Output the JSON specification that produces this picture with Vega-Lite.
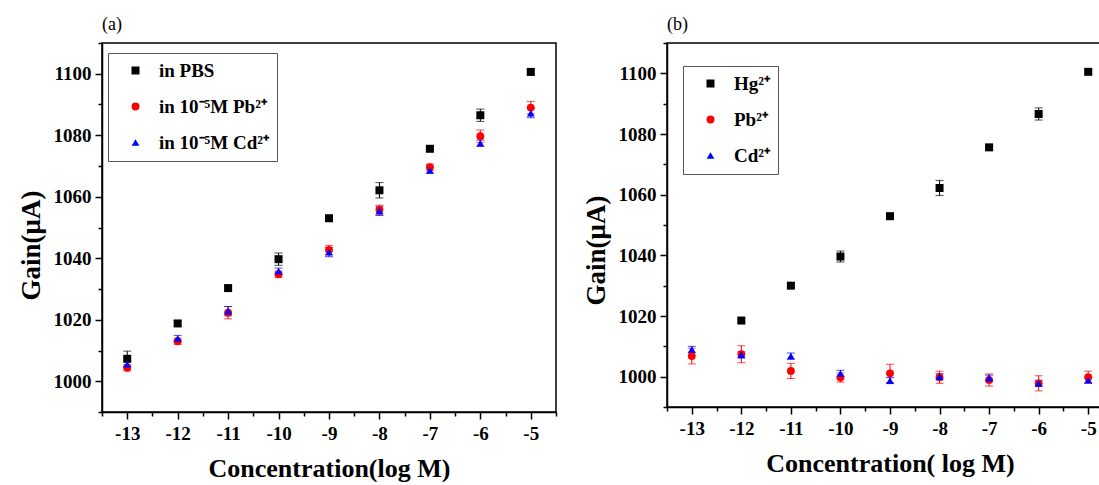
{
  "$schema": "https://vega.github.io/schema/vega-lite/v6.json",
  "padding": {"left": 16, "top": 15, "right": 0, "bottom": 0},
  "spacing": 23,
  "datasets": {
    "pts": [
      {"p": "a", "s": "in PBS", "x": -13, "y": 1007.3, "lo": 1004.8, "hi": 1009.8},
      {"p": "a", "s": "in PBS", "x": -12, "y": 1018.8, "lo": 1018.0, "hi": 1019.6},
      {"p": "a", "s": "in PBS", "x": -11, "y": 1030.3, "lo": 1029.5, "hi": 1031.1},
      {"p": "a", "s": "in PBS", "x": -10, "y": 1039.7, "lo": 1037.7, "hi": 1041.7},
      {"p": "a", "s": "in PBS", "x": -9, "y": 1053.0, "lo": 1052.0, "hi": 1054.0},
      {"p": "a", "s": "in PBS", "x": -8, "y": 1062.1, "lo": 1059.6, "hi": 1064.6},
      {"p": "a", "s": "in PBS", "x": -7, "y": 1075.6, "lo": 1074.8, "hi": 1076.4},
      {"p": "a", "s": "in PBS", "x": -6, "y": 1086.5, "lo": 1084.5, "hi": 1088.5},
      {"p": "a", "s": "in PBS", "x": -5, "y": 1100.6, "lo": 1099.8, "hi": 1101.4},
      {"p": "a", "s": "in 10⁻⁵M Pb²⁺", "x": -13, "y": 1004.4, "lo": 1003.4, "hi": 1005.4},
      {"p": "a", "s": "in 10⁻⁵M Pb²⁺", "x": -12, "y": 1013.0, "lo": 1012.0, "hi": 1014.0},
      {"p": "a", "s": "in 10⁻⁵M Pb²⁺", "x": -11, "y": 1022.3, "lo": 1020.3, "hi": 1024.3},
      {"p": "a", "s": "in 10⁻⁵M Pb²⁺", "x": -10, "y": 1034.8, "lo": 1033.8, "hi": 1035.8},
      {"p": "a", "s": "in 10⁻⁵M Pb²⁺", "x": -9, "y": 1042.7, "lo": 1041.2, "hi": 1044.2},
      {"p": "a", "s": "in 10⁻⁵M Pb²⁺", "x": -8, "y": 1055.8, "lo": 1054.3, "hi": 1057.3},
      {"p": "a", "s": "in 10⁻⁵M Pb²⁺", "x": -7, "y": 1069.6, "lo": 1068.6, "hi": 1070.6},
      {"p": "a", "s": "in 10⁻⁵M Pb²⁺", "x": -6, "y": 1079.7, "lo": 1077.7, "hi": 1081.7},
      {"p": "a", "s": "in 10⁻⁵M Pb²⁺", "x": -5, "y": 1089.0, "lo": 1087.0, "hi": 1091.0},
      {"p": "a", "s": "in 10⁻⁵M Cd²⁺", "x": -13, "y": 1005.6, "lo": 1004.6, "hi": 1006.6},
      {"p": "a", "s": "in 10⁻⁵M Cd²⁺", "x": -12, "y": 1013.9, "lo": 1012.9, "hi": 1014.9},
      {"p": "a", "s": "in 10⁻⁵M Cd²⁺", "x": -11, "y": 1022.8, "lo": 1021.3, "hi": 1024.3},
      {"p": "a", "s": "in 10⁻⁵M Cd²⁺", "x": -10, "y": 1035.8, "lo": 1034.8, "hi": 1036.8},
      {"p": "a", "s": "in 10⁻⁵M Cd²⁺", "x": -9, "y": 1042.0, "lo": 1040.5, "hi": 1043.5},
      {"p": "a", "s": "in 10⁻⁵M Cd²⁺", "x": -8, "y": 1055.4, "lo": 1053.9, "hi": 1056.9},
      {"p": "a", "s": "in 10⁻⁵M Cd²⁺", "x": -7, "y": 1068.6, "lo": 1067.6, "hi": 1069.6},
      {"p": "a", "s": "in 10⁻⁵M Cd²⁺", "x": -6, "y": 1077.4, "lo": 1076.4, "hi": 1078.4},
      {"p": "a", "s": "in 10⁻⁵M Cd²⁺", "x": -5, "y": 1087.2, "lo": 1085.7, "hi": 1088.7},
      {"p": "b", "s": "Hg²⁺", "x": -12, "y": 1018.5, "lo": 1017.8, "hi": 1019.2},
      {"p": "b", "s": "Hg²⁺", "x": -11, "y": 1030.0, "lo": 1029.3, "hi": 1030.7},
      {"p": "b", "s": "Hg²⁺", "x": -10, "y": 1039.6, "lo": 1037.8, "hi": 1041.4},
      {"p": "b", "s": "Hg²⁺", "x": -9, "y": 1052.9, "lo": 1051.9, "hi": 1053.9},
      {"p": "b", "s": "Hg²⁺", "x": -8, "y": 1062.2, "lo": 1059.7, "hi": 1064.7},
      {"p": "b", "s": "Hg²⁺", "x": -7, "y": 1075.6, "lo": 1074.9, "hi": 1076.3},
      {"p": "b", "s": "Hg²⁺", "x": -6, "y": 1086.6, "lo": 1084.6, "hi": 1088.6},
      {"p": "b", "s": "Hg²⁺", "x": -5, "y": 1100.5, "lo": 1099.8, "hi": 1101.2},
      {"p": "b", "s": "Pb²⁺", "x": -13, "y": 1006.8, "lo": 1004.2, "hi": 1009.4},
      {"p": "b", "s": "Pb²⁺", "x": -12, "y": 1007.4, "lo": 1004.6, "hi": 1010.2},
      {"p": "b", "s": "Pb²⁺", "x": -11, "y": 1001.9, "lo": 999.4, "hi": 1004.4},
      {"p": "b", "s": "Pb²⁺", "x": -10, "y": 999.7, "lo": 998.2, "hi": 1001.2},
      {"p": "b", "s": "Pb²⁺", "x": -9, "y": 1001.1, "lo": 998.1, "hi": 1004.1},
      {"p": "b", "s": "Pb²⁺", "x": -8, "y": 999.8, "lo": 997.8, "hi": 1001.8},
      {"p": "b", "s": "Pb²⁺", "x": -7, "y": 998.9, "lo": 996.9, "hi": 1000.9},
      {"p": "b", "s": "Pb²⁺", "x": -6, "y": 997.8, "lo": 995.3, "hi": 1000.3},
      {"p": "b", "s": "Pb²⁺", "x": -5, "y": 999.8, "lo": 997.8, "hi": 1001.8},
      {"p": "b", "s": "Cd²⁺", "x": -13, "y": 1009.0, "lo": 1008.0, "hi": 1010.0},
      {"p": "b", "s": "Cd²⁺", "x": -12, "y": 1007.2, "lo": 1006.2, "hi": 1008.2},
      {"p": "b", "s": "Cd²⁺", "x": -11, "y": 1006.8, "lo": 1005.8, "hi": 1007.8},
      {"p": "b", "s": "Cd²⁺", "x": -10, "y": 1001.1, "lo": 1000.1, "hi": 1002.1},
      {"p": "b", "s": "Cd²⁺", "x": -9, "y": 998.7, "lo": 997.7, "hi": 999.7},
      {"p": "b", "s": "Cd²⁺", "x": -8, "y": 1000.0, "lo": 999.0, "hi": 1001.0},
      {"p": "b", "s": "Cd²⁺", "x": -7, "y": 999.5, "lo": 998.5, "hi": 1000.5},
      {"p": "b", "s": "Cd²⁺", "x": -6, "y": 997.8, "lo": 996.8, "hi": 998.8},
      {"p": "b", "s": "Cd²⁺", "x": -5, "y": 998.9, "lo": 997.9, "hi": 999.9}
    ]
  },
  "config": {
    "font": "Liberation Serif",
    "view": {"stroke": "#000", "strokeWidth": 1.5},
    "axis": {
      "grid": false,
      "domainColor": "#000",
      "domainWidth": 1.5,
      "tickColor": "#000",
      "tickWidth": 1.5,
      "labelFont": "Liberation Serif",
      "labelFontWeight": "bold",
      "labelFontSize": 19,
      "labelColor": "#000",
      "titleFont": "Liberation Serif",
      "titleFontWeight": "bold",
      "titleColor": "#000"
    },
    "legend": {
      "strokeColor": "#555",
      "strokeWidth": 1,
      "fillColor": "#fff",
      "padding": 8,
      "labelFont": "Liberation Serif",
      "labelFontWeight": "bold",
      "labelFontSize": 19,
      "labelColor": "#000",
      "rowPadding": 16,
      "labelOffset": 14,
      "symbolOffset": 10,
      "symbolSize": 70,
      "symbolOpacity": 1,
      "symbolStrokeWidth": 0
    },
    "title": {"font": "Liberation Serif", "fontSize": 18, "fontWeight": "normal", "anchor": "start", "color": "#000", "offset": 8, "frame": "group"}
  },
  "resolve": {"scale": {"color": "independent", "shape": "independent", "size": "independent", "x": "independent", "y": "independent"}, "legend": {"color": "independent", "shape": "independent"}},
  "hconcat": [
    {
      "title": {"text": "(a)"},
      "width": 454,
      "height": 369,
      "transform": [{"filter": "datum.p == 'a'"}],
      "data": {"name": "pts"},
      "encoding": {
        "x": {"field": "x", "type": "quantitative", "scale": {"domain": [-13.5, -4.5], "nice": false, "zero": false},
          "axis": {"values": [-13.5, -13, -12.5, -12, -11.5, -11, -10.5, -10, -9.5, -9, -8.5, -8, -7.5, -7, -6.5, -6, -5.5, -5, -4.5],
            "labelExpr": "datum.value % 1 == 0 ? '' + datum.value : ''",
            "tickSize": {"condition": {"test": "datum.value % 1 == 0", "value": 7}, "value": 4},
            "labelPadding": 5, "title": "Concentration(log M)", "titleFontSize": 26, "titlePadding": 12}},
        "y": {"field": "y", "type": "quantitative", "scale": {"domain": [990, 1110], "nice": false, "zero": false},
          "axis": {"values": [990, 1000, 1010, 1020, 1030, 1040, 1050, 1060, 1070, 1080, 1090, 1100, 1110],
            "labelExpr": "datum.value % 20 == 0 ? '' + datum.value : ''",
            "tickSize": {"condition": {"test": "datum.value % 20 == 0", "value": 7}, "value": 4},
            "labelPadding": 4, "title": "Gain(μA)", "titleFontSize": 27, "titlePadding": 8, "titleY": 202}},
        "color": {"field": "s", "type": "nominal",
          "scale": {"domain": ["in PBS", "in 10⁻⁵M Pb²⁺", "in 10⁻⁵M Cd²⁺"], "range": ["#000000", "#ff0000", "#0000ff"]},
          "legend": {"orient": "none", "legendX": 6, "legendY": 10, "title": null}}
      },
      "layer": [
        {"mark": {"type": "rule", "strokeWidth": 1},
          "encoding": {"y": {"field": "lo", "type": "quantitative"}, "y2": {"field": "hi"}}},
        {"mark": {"type": "tick", "orient": "horizontal", "size": 8, "thickness": 1},
          "encoding": {"y": {"field": "lo", "type": "quantitative"}}},
        {"mark": {"type": "tick", "orient": "horizontal", "size": 8, "thickness": 1},
          "encoding": {"y": {"field": "hi", "type": "quantitative"}}},
        {"mark": {"type": "point", "filled": true, "opacity": 1},
          "encoding": {
            "size": {"field": "s", "type": "nominal", "legend": null, "scale": {"domain": ["in PBS", "in 10⁻⁵M Pb²⁺", "in 10⁻⁵M Cd²⁺"], "range": [64, 60, 95]}},
            "shape": {"field": "s", "type": "nominal", "scale": {"domain": ["in PBS", "in 10⁻⁵M Pb²⁺", "in 10⁻⁵M Cd²⁺"], "range": ["square", "circle", "triangle-up"]},
              "legend": {"orient": "none", "legendX": 6, "legendY": 10, "title": null}}
          }}
      ]
    },
    {
      "title": {"text": "(b)"},
      "width": 446,
      "height": 364,
      "transform": [{"filter": "datum.p == 'b'"}],
      "data": {"name": "pts"},
      "encoding": {
        "x": {"field": "x", "type": "quantitative", "scale": {"domain": [-13.5, -4.5], "nice": false, "zero": false},
          "axis": {"values": [-13.5, -13, -12.5, -12, -11.5, -11, -10.5, -10, -9.5, -9, -8.5, -8, -7.5, -7, -6.5, -6, -5.5, -5, -4.5],
            "labelExpr": "datum.value % 1 == 0 ? '' + datum.value : ''",
            "tickSize": {"condition": {"test": "datum.value % 1 == 0", "value": 7}, "value": 4},
            "labelPadding": 5, "title": "Concentration( log M)", "titleFontSize": 26, "titlePadding": 12}},
        "y": {"field": "y", "type": "quantitative", "scale": {"domain": [990, 1110], "nice": false, "zero": false},
          "axis": {"values": [990, 1000, 1010, 1020, 1030, 1040, 1050, 1060, 1070, 1080, 1090, 1100, 1110],
            "labelExpr": "datum.value % 20 == 0 ? '' + datum.value : ''",
            "tickSize": {"condition": {"test": "datum.value % 20 == 0", "value": 7}, "value": 4},
            "labelPadding": 4, "title": "Gain(μA)", "titleFontSize": 27, "titlePadding": 8, "titleY": 207}},
        "color": {"field": "s", "type": "nominal",
          "scale": {"domain": ["Hg²⁺", "Pb²⁺", "Cd²⁺"], "range": ["#000000", "#ff0000", "#0000ff"]},
          "legend": {"orient": "none", "legendX": 16, "legendY": 23, "title": null}}
      },
      "layer": [
        {"mark": {"type": "rule", "strokeWidth": 1},
          "encoding": {"y": {"field": "lo", "type": "quantitative"}, "y2": {"field": "hi"}}},
        {"mark": {"type": "tick", "orient": "horizontal", "size": 8, "thickness": 1},
          "encoding": {"y": {"field": "lo", "type": "quantitative"}}},
        {"mark": {"type": "tick", "orient": "horizontal", "size": 8, "thickness": 1},
          "encoding": {"y": {"field": "hi", "type": "quantitative"}}},
        {"mark": {"type": "point", "filled": true, "opacity": 1},
          "encoding": {
            "size": {"field": "s", "type": "nominal", "legend": null, "scale": {"domain": ["Hg²⁺", "Pb²⁺", "Cd²⁺"], "range": [64, 60, 95]}},
            "shape": {"field": "s", "type": "nominal", "scale": {"domain": ["Hg²⁺", "Pb²⁺", "Cd²⁺"], "range": ["square", "circle", "triangle-up"]},
              "legend": {"orient": "none", "legendX": 16, "legendY": 23, "title": null}}
          }}
      ]
    }
  ]
}
